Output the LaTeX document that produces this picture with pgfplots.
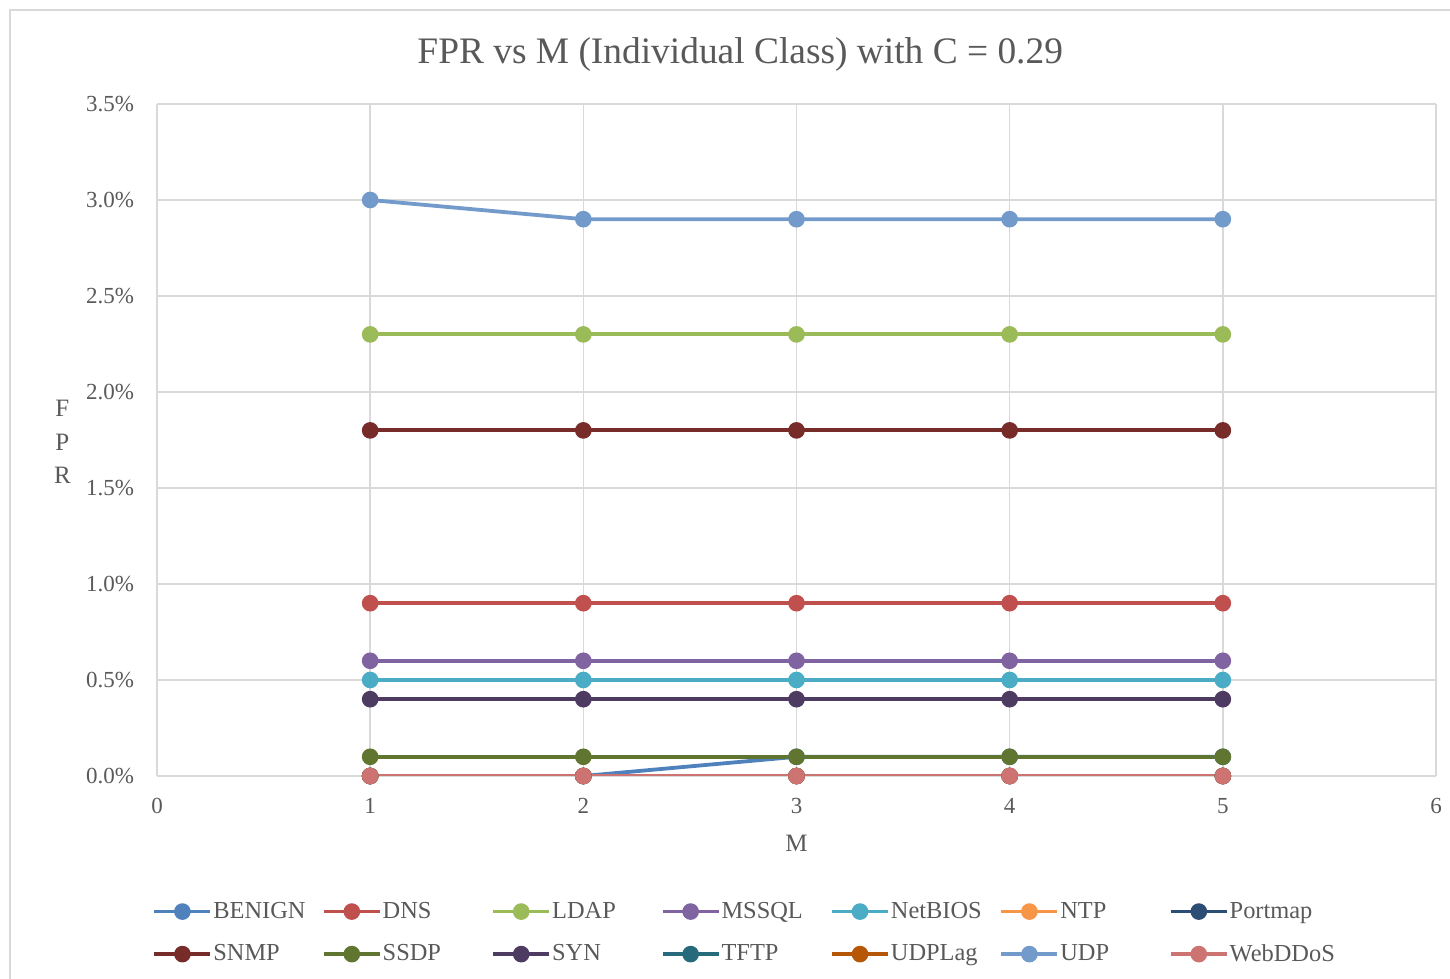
\documentclass[border=0pt]{standalone}
\usepackage{pgfplots}
\pgfplotsset{compat=1.18}
\usepackage{fontspec}
\setmainfont{Liberation Serif}
\definecolor{txt}{HTML}{595959}
\definecolor{gridc}{HTML}{D9D9D9}
\definecolor{cBENIGN}{HTML}{4F81BD}
\definecolor{cDNS}{HTML}{C0504D}
\definecolor{cLDAP}{HTML}{9BBB59}
\definecolor{cMSSQL}{HTML}{8064A2}
\definecolor{cNetBIOS}{HTML}{4BACC6}
\definecolor{cNTP}{HTML}{F79646}
\definecolor{cPortmap}{HTML}{2C4D75}
\definecolor{cSNMP}{HTML}{772C2A}
\definecolor{cSSDP}{HTML}{5F7530}
\definecolor{cSYN}{HTML}{4D3B62}
\definecolor{cTFTP}{HTML}{276A7C}
\definecolor{cUDPLag}{HTML}{B65708}
\definecolor{cUDP}{HTML}{729ACA}
\definecolor{cWebDDoS}{HTML}{CD7371}
\newcommand{\lbl}[1]{\makebox[52.3pt][l]{#1}}
\begin{document}
\begin{tikzpicture}[x=1pt,y=1pt]
\path[use as bounding box] (0,0) rectangle (725,489.5);
\draw[gridc, line width=0.6pt] (5,-10) rectangle (740,484.5);
\begin{axis}[
  at={(78.5pt,101.5pt)}, anchor=south west,
  scale only axis, width=639.5pt, height=336pt,
  xmin=0, xmax=6, ymin=0, ymax=3.5,
  xtick={0,1,...,6}, ytick={0,0.5,...,3.5},
  yticklabel={\pgfmathprintnumber[fixed,fixed zerofill,precision=1]{\tick}\%},
  /pgf/number format/assume math mode=true,
  xmajorgrids, ymajorgrids,
  grid style={gridc, line width=0.8pt},
  axis line style={draw=none},
  tick style={draw=none},
  ticklabel style={font=\fontsize{11.5}{13}\selectfont, text=txt},
  yticklabel style={xshift=-8pt},
  xticklabel style={yshift=-7.5pt},
  title={FPR vs M (Individual Class) with C = 0.29},
  title style={font=\fontsize{18.7}{22}\selectfont, text=txt, at={(0.456,1)}, yshift=6.5pt},
  xlabel={M},
  xlabel style={font=\fontsize{12.5}{14}\selectfont, text=txt, at={(axis description cs:0.5,-0.1)}, anchor=center},
  ylabel={\shortstack{F\\[5.5pt]P\\[5.5pt]R}},
  ylabel style={font=\fontsize{12.5}{14}\selectfont, text=txt, rotate=-90, at={(axis description cs:-0.074,0.497)}, anchor=center},
  every axis plot/.append style={line width=1.9pt, mark=*, mark size=3.2pt, mark options={solid}},
  legend columns=7,
  legend cell align=left,
  legend style={draw=none, fill=none, at={(axis description cs:-0.0085,-0.175)}, anchor=north west,
    font=\fontsize{12.2}{14}\selectfont, text=txt,
    /tikz/every odd column/.append style={column sep=-1.5pt},
    /tikz/every even column/.append style={column sep=0pt},
    row sep=7.5pt},
  legend image code/.code={\draw[mark repeat=2,mark phase=2] plot coordinates {(0pt,0pt) (14pt,0pt) (28pt,0pt)};},
]
\addplot[color=cBENIGN] coordinates {(1,0) (2,0) (3,0.1) (4,0.1) (5,0.1)};
\addlegendentry{\lbl{BENIGN}}
\addplot[color=cDNS] coordinates {(1,0.9) (2,0.9) (3,0.9) (4,0.9) (5,0.9)};
\addlegendentry{\lbl{DNS}}
\addplot[color=cLDAP] coordinates {(1,2.3) (2,2.3) (3,2.3) (4,2.3) (5,2.3)};
\addlegendentry{\lbl{LDAP}}
\addplot[color=cMSSQL] coordinates {(1,0.6) (2,0.6) (3,0.6) (4,0.6) (5,0.6)};
\addlegendentry{\lbl{MSSQL}}
\addplot[color=cNetBIOS] coordinates {(1,0.5) (2,0.5) (3,0.5) (4,0.5) (5,0.5)};
\addlegendentry{\lbl{NetBIOS}}
\addplot[color=cNTP] coordinates {(1,0) (2,0) (3,0) (4,0) (5,0)};
\addlegendentry{\lbl{NTP}}
\addplot[color=cPortmap] coordinates {(1,0) (2,0) (3,0) (4,0) (5,0)};
\addlegendentry{\lbl{Portmap}}
\addplot[color=cSNMP] coordinates {(1,1.8) (2,1.8) (3,1.8) (4,1.8) (5,1.8)};
\addlegendentry{\lbl{SNMP}}
\addplot[color=cSSDP] coordinates {(1,0.1) (2,0.1) (3,0.1) (4,0.1) (5,0.1)};
\addlegendentry{\lbl{SSDP}}
\addplot[color=cSYN] coordinates {(1,0.4) (2,0.4) (3,0.4) (4,0.4) (5,0.4)};
\addlegendentry{\lbl{SYN}}
\addplot[color=cTFTP] coordinates {(1,0) (2,0) (3,0) (4,0) (5,0)};
\addlegendentry{\lbl{TFTP}}
\addplot[color=cUDPLag] coordinates {(1,0) (2,0) (3,0) (4,0) (5,0)};
\addlegendentry{\lbl{UDPLag}}
\addplot[color=cUDP] coordinates {(1,3.0) (2,2.9) (3,2.9) (4,2.9) (5,2.9)};
\addlegendentry{\lbl{UDP}}
\addplot[color=cWebDDoS] coordinates {(1,0) (2,0) (3,0) (4,0) (5,0)};
\addlegendentry{\lbl{WebDDoS}}
\end{axis}
\end{tikzpicture}
\end{document}
